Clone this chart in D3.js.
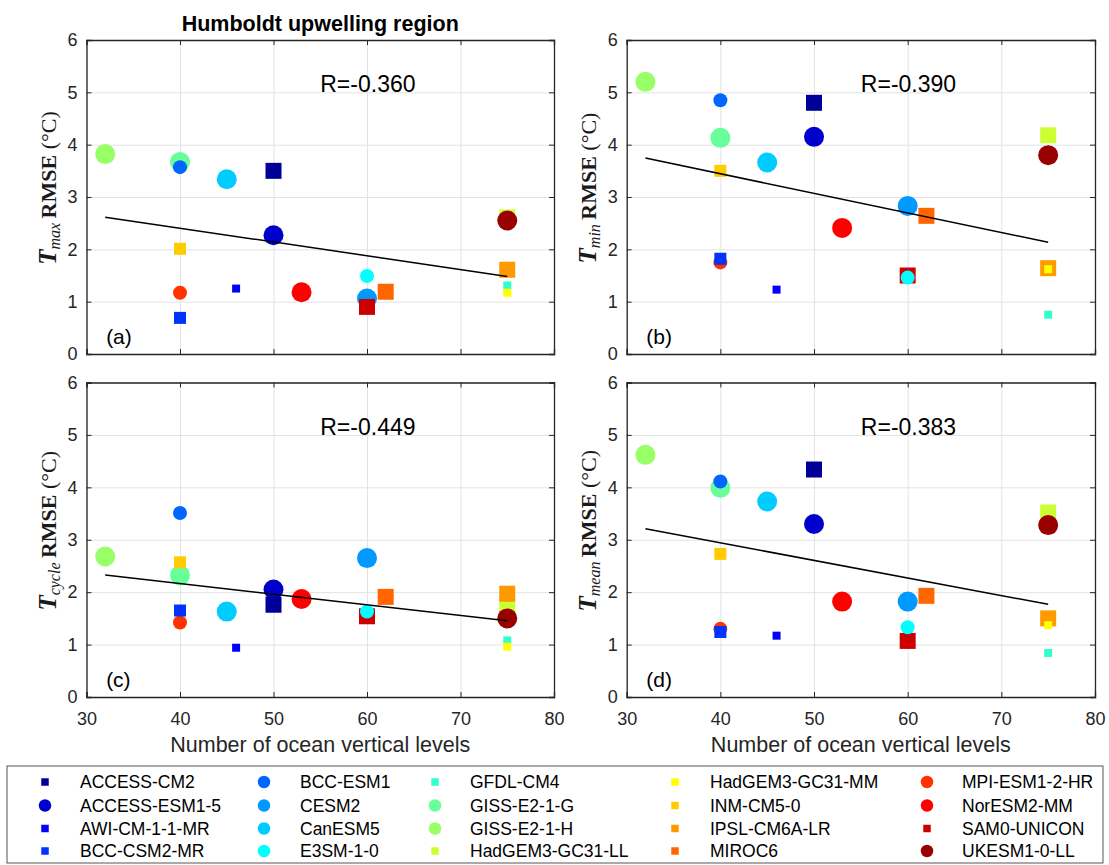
<!DOCTYPE html>
<html>
<head>
<meta charset="utf-8">
<script src="https://cdn.jsdelivr.net/npm/d3@7"></script>
<style>
  html, body { margin: 0; padding: 0; background: #fff; }
  svg { display: block; }
  .tick text { font-family: "Liberation Sans", Arial, sans-serif; font-size: 18px; fill: #262626; }
</style>
</head>
<body>
<script>
// ---- data ----
const models = ["ACCESS-CM2","ACCESS-ESM1-5","AWI-CM-1-1-MR","BCC-CSM2-MR","BCC-ESM1",
  "CESM2","CanESM5","E3SM-1-0","GFDL-CM4","GISS-E2-1-G","GISS-E2-1-H","HadGEM3-GC31-LL",
  "HadGEM3-GC31-MM","INM-CM5-0","IPSL-CM6A-LR","MIROC6","MPI-ESM1-2-HR","NorESM2-MM",
  "SAM0-UNICON","UKESM1-0-LL"];
const oceanLevels = [50,50,46,40,40,60,45,60,75,40,32,75,75,40,75,62,40,53,60,75];
const tmaxRMSE   = [3.50,2.27,1.25,0.69,3.57,1.06,3.34,1.49,1.31,3.67,3.82,2.61,1.17,2.01,1.61,1.19,1.17,1.18,0.90,2.55];
const tminRMSE   = [4.80,4.15,1.23,1.82,4.85,2.83,3.66,1.46,0.75,4.13,5.20,4.18,1.62,3.50,1.64,2.64,1.75,2.41,1.50,3.80];
const tcycleRMSE = [1.76,2.05,0.94,1.65,3.51,2.65,1.63,1.63,1.08,2.32,2.68,1.72,0.96,2.57,1.97,1.91,1.42,1.87,1.54,1.50];
const tmeanRMSE  = [4.34,3.30,1.17,1.24,4.11,1.82,3.73,1.33,0.84,3.99,4.62,3.52,1.37,2.73,1.50,1.93,1.30,1.82,1.07,3.28];
const rLabels = ["R=-0.360","R=-0.390","R=-0.449","R=-0.383"];
const panelLetters = ["(a)","(b)","(c)","(d)"];
const subscripts = ["max","min","cycle","mean"];
const xTicks = [30,40,50,60,70,80];
const yTicks = [0,1,2,3,4,5,6];

// ---- marker styles (jet colormap, one colour per model) ----
const markerColor = ["#000099","#0000cc","#0000ff","#0033ff","#0066ff","#0099ff","#00ccff","#00ffff",
  "#33ffcc","#66ff99","#99ff66","#ccff33","#ffff00","#ffcc00","#ff9900","#ff6600","#ff3300",
  "#ff0000","#cc0000","#990000"];
const markerShape = ["s","o","s","s","o","o","o","o","s","o","o","s","s","s","s","s","o","o","s","o"];
const markerSize  = [16,20,8,12,14,20,20,14,8,20,20,16,8,12,16,16,14,20,16,20];
// stacking order of the markers (first drawn at the back)
const drawOrder = ["GISS-E2-1-H","GISS-E2-1-G","CESM2","CanESM5","NorESM2-MM","ACCESS-ESM1-5",
  "HadGEM3-GC31-LL","UKESM1-0-LL","IPSL-CM6A-LR","MIROC6","SAM0-UNICON","ACCESS-CM2",
  "E3SM-1-0","BCC-ESM1","MPI-ESM1-2-HR","BCC-CSM2-MR","INM-CM5-0","AWI-CM-1-1-MR",
  "GFDL-CM4","HadGEM3-GC31-MM"];

const series = [tmaxRMSE, tminRMSE, tcycleRMSE, tmeanRMSE];

// ---- layout ----
const W = 1109, H = 865;
const panels = [
  {left: 86.5,  right: 554,  top: 40,    bottom: 354},
  {left: 626.7, right: 1095, top: 40,    bottom: 354},
  {left: 86.5,  right: 554,  top: 382.5, bottom: 697},
  {left: 626.7, right: 1095, top: 382.5, bottom: 697}
];
const axisColor = "#262626";
const sans = '"Liberation Sans", Arial, Helvetica, sans-serif';
const serif = '"Liberation Serif", "Times New Roman", serif';

const svg = d3.select("body").append("svg")
  .attr("width", W).attr("height", H)
  .attr("viewBox", `0 0 ${W} ${H}`);
svg.append("rect").attr("width", W).attr("height", H).attr("fill", "#fff");

function fitLine(xs, ys) {
  const n = xs.length;
  const mx = d3.mean(xs), my = d3.mean(ys);
  let sxy = 0, sxx = 0;
  for (let i = 0; i < n; i++) { sxy += (xs[i]-mx)*(ys[i]-my); sxx += (xs[i]-mx)*(xs[i]-mx); }
  const b = sxy / sxx;
  return x => my + b * (x - mx);
}

const symSquare = d3.symbol().type(d3.symbolSquare);
const symCircle = d3.symbol().type(d3.symbolCircle);
function markerPath(shape, size) {
  // size is the marker's width in px
  return shape === "s" ? symSquare.size(size*size)() : symCircle.size(Math.PI*size*size/4)();
}

panels.forEach((p, k) => {
  const x = d3.scaleLinear().domain([30, 80]).range([p.left, p.right]);
  const y = d3.scaleLinear().domain([0, 6]).range([p.bottom, p.top]);
  const g = svg.append("g");
  const w = p.right - p.left, h = p.bottom - p.top;

  // grid
  g.append("g").attr("transform", `translate(0,${p.bottom})`)
    .call(d3.axisBottom(x).tickValues(xTicks).tickSize(-h).tickFormat(""))
    .call(s => s.select(".domain").remove())
    .call(s => s.selectAll("line").attr("stroke", "#e3e3e3").attr("stroke-width", 1));
  g.append("g").attr("transform", `translate(${p.left},0)`)
    .call(d3.axisLeft(y).tickValues(yTicks).tickSize(-w).tickFormat(""))
    .call(s => s.select(".domain").remove())
    .call(s => s.selectAll("line").attr("stroke", "#e3e3e3").attr("stroke-width", 1));

  // markers
  const xs = oceanLevels, ys = series[k];
  const order = drawOrder.map(name => models.indexOf(name));
  g.append("g").selectAll("path").data(order).join("path")
    .attr("d", i => markerPath(markerShape[i], markerSize[i]))
    .attr("transform", i => `translate(${x(xs[i])},${y(ys[i])})`)
    .attr("fill", i => markerColor[i]);

  // least squares line across the sampled range
  const f = fitLine(xs, ys);
  const x0 = d3.min(xs), x1 = d3.max(xs);
  g.append("line")
    .attr("x1", x(x0)).attr("y1", y(f(x0)))
    .attr("x2", x(x1)).attr("y2", y(f(x1)))
    .attr("stroke", "#000").attr("stroke-width", 1.5);

  // axes (inward ticks on all four sides)
  const bottomRow = k >= 2;
  const ax = g.append("g").attr("transform", `translate(0,${p.bottom})`)
    .call(d3.axisBottom(x).tickValues(xTicks).tickSize(-5).tickPadding(15)
      .tickFormat(bottomRow ? d3.format("d") : ""));
  const ay = g.append("g").attr("transform", `translate(${p.left},0)`)
    .call(d3.axisLeft(y).tickValues(yTicks).tickSize(-5).tickPadding(9).tickFormat(d3.format("d")));
  const at = g.append("g").attr("transform", `translate(0,${p.top})`)
    .call(d3.axisTop(x).tickValues(xTicks).tickSize(-5).tickFormat(""));
  const ar = g.append("g").attr("transform", `translate(${p.right},0)`)
    .call(d3.axisRight(y).tickValues(yTicks).tickSize(-5).tickFormat(""));
  [ax, ay, at, ar].forEach(a => {
    a.select(".domain").attr("stroke", axisColor).attr("stroke-width", 1.3);
    a.selectAll(".tick line").attr("stroke", axisColor).attr("stroke-width", 1);
  });

  // correlation label
  g.append("text")
    .attr("x", x(55)).attr("y", y(5.0))
    .attr("font-family", sans).attr("font-size", 23).attr("fill", "#000")
    .text(rLabels[k]);

  // panel letter
  g.append("text")
    .attr("x", x(32.1)).attr("y", y(0.2))
    .attr("font-family", sans).attr("font-size", 21).attr("fill", "#000")
    .text(panelLetters[k]);

  // y label
  const cy = (p.top + p.bottom) / 2 - 9;
  const lx = p.left - 31;
  const yl = g.append("text")
    .attr("transform", `translate(${lx},${cy}) rotate(-90)`)
    .attr("text-anchor", "middle")
    .attr("font-family", serif).attr("fill", "#1a1a1a");
  yl.append("tspan").attr("font-weight", "bold").attr("font-style", "italic").attr("font-size", 25).text("T");
  yl.append("tspan").attr("font-style", "italic").attr("font-size", 16).attr("dy", 4).text(subscripts[k]);
  yl.append("tspan").attr("font-weight", "bold").attr("font-size", 22).attr("dy", -4).text("\u2009RMSE");
  yl.append("tspan").attr("font-size", 22).text(" (\u00B0C)");

  // x label
  if (bottomRow) {
    g.append("text")
      .attr("x", (p.left + p.right) / 2).attr("y", 752)
      .attr("text-anchor", "middle")
      .attr("font-family", sans).attr("font-size", 21.5).attr("fill", axisColor)
      .text("Number of ocean vertical levels");
  }
});

// title
svg.append("text")
  .attr("x", (panels[0].left + panels[0].right) / 2).attr("y", 31)
  .attr("text-anchor", "middle")
  .attr("font-family", sans).attr("font-size", 21.5).attr("font-weight", "bold").attr("fill", "#000")
  .text("Humboldt upwelling region");

// legend (5 columns, filled column by column)
const legendBox = {x0: 7, x1: 1103, y0: 766, y1: 863};
const legColsMarker = [45, 264, 435, 675, 927];
const legColsText = [80, 300, 470, 710, 962];
const legRows = [782, 805.5, 828.5, 851];
const leg = svg.append("g");
leg.append("rect")
  .attr("x", legendBox.x0).attr("y", legendBox.y0)
  .attr("width", legendBox.x1 - legendBox.x0).attr("height", legendBox.y1 - legendBox.y0)
  .attr("fill", "#fff").attr("stroke", "#555").attr("stroke-width", 1);
const legItems = leg.selectAll("g.item").data(models.map((m, i) => i)).join("g")
  .attr("class", "item");
legItems.append("path")
  .attr("d", i => markerPath(markerShape[i], markerShape[i] === "s" ? 7.5 : 12.5))
  .attr("transform", i => `translate(${legColsMarker[Math.floor(i/4)]},${legRows[i%4]})`)
  .attr("fill", i => markerColor[i]);
legItems.append("text")
  .attr("x", i => legColsText[Math.floor(i/4)])
  .attr("y", i => legRows[i%4] + 6)
  .attr("font-family", sans).attr("font-size", 17.5).attr("fill", "#000")
  .text(i => models[i]);
</script>
</body>
</html>
